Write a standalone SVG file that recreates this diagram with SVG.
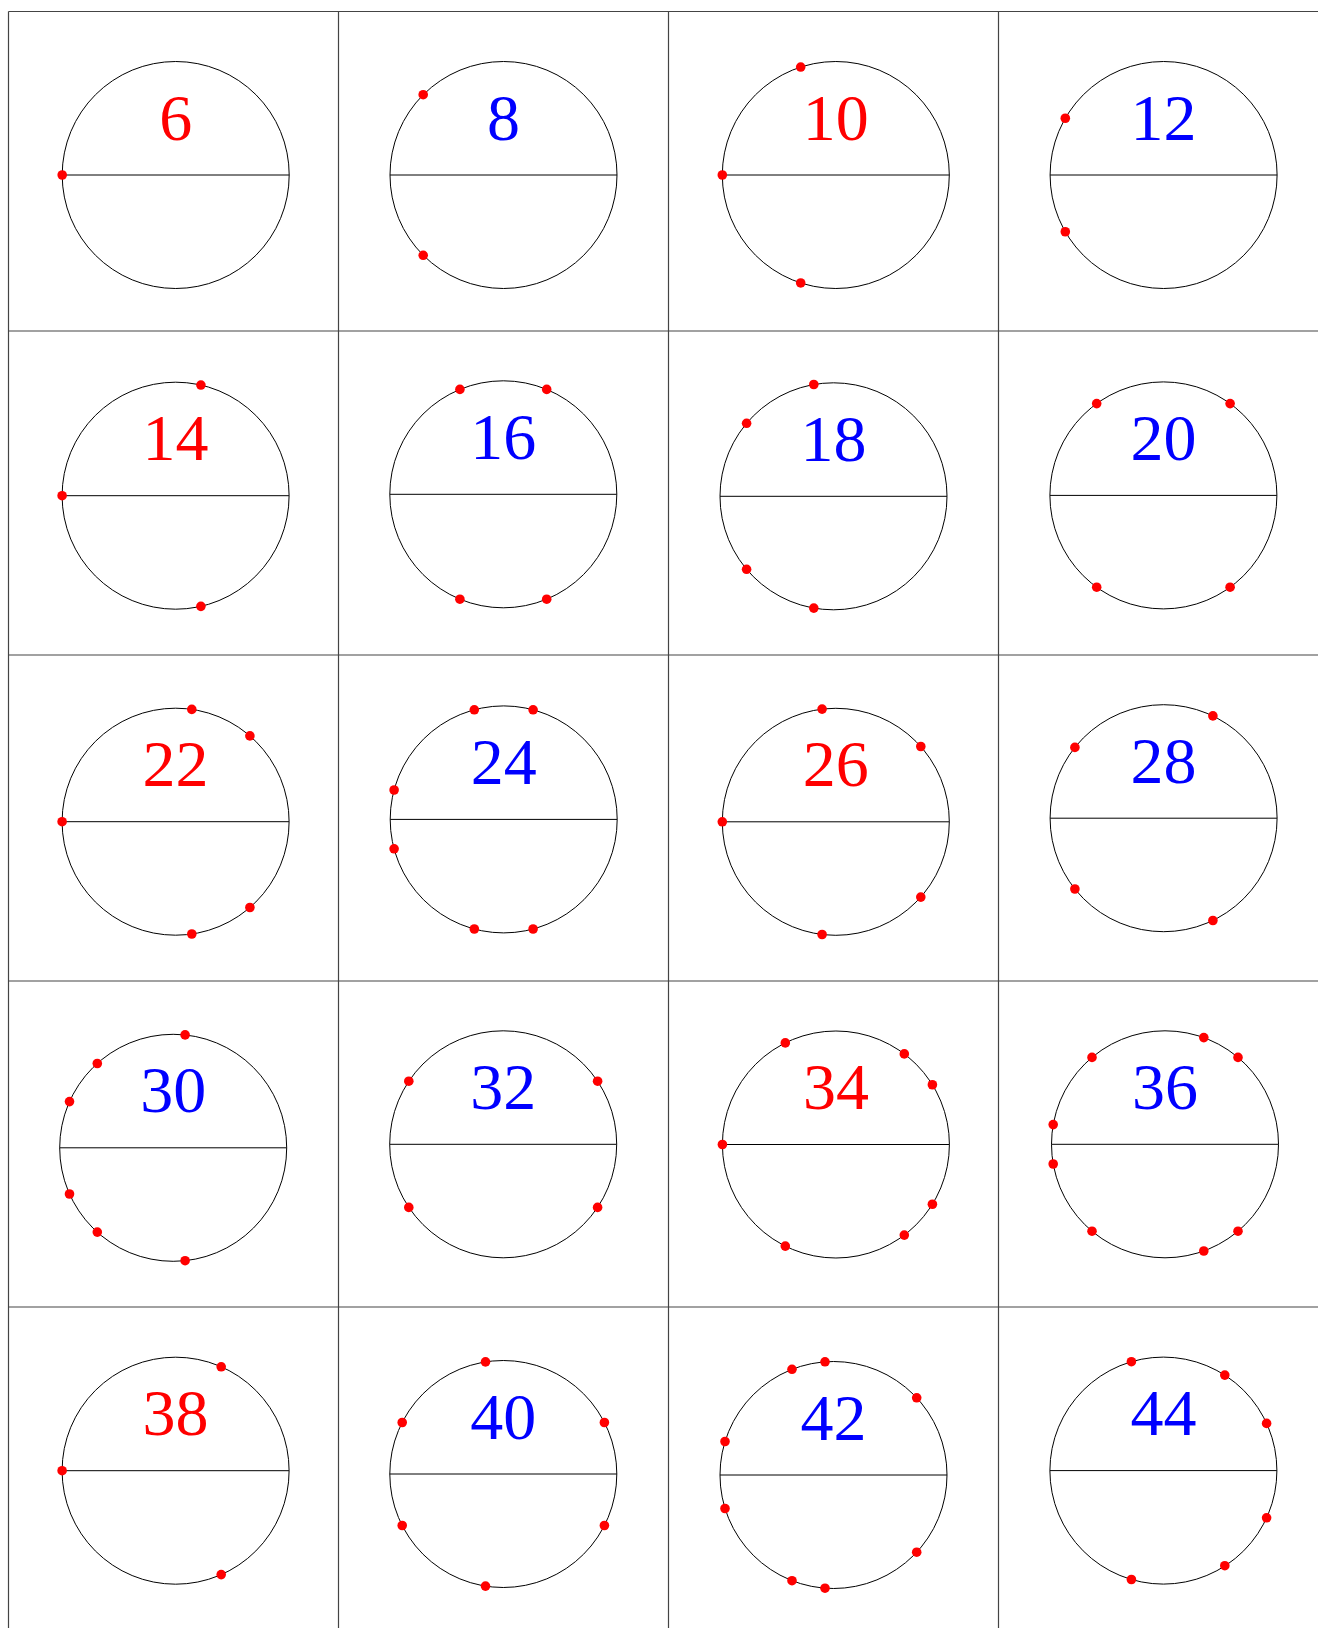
<svg xmlns="http://www.w3.org/2000/svg" width="1318" height="1628" viewBox="0 0 1318 1628">
<style>
.grid{stroke:#444;stroke-width:1.2;fill:none}
.c{fill:none;stroke:#000;stroke-width:1}
.d{stroke:#000;stroke-width:1}
.p{fill:#ff0000}
.t{font-family:"Liberation Serif","DejaVu Serif",serif;font-size:66px;text-anchor:middle}
.r{fill:#ff0000}
.b{fill:#0000ff}
</style>
<rect width="1318" height="1628" fill="#fff"/>
<g id="grid" class="grid">
<line x1="8.5" y1="11.5" x2="1318" y2="11.5"/>
<line x1="8.5" y1="331" x2="1318" y2="331"/>
<line x1="8.5" y1="655" x2="1318" y2="655"/>
<line x1="8.5" y1="981" x2="1318" y2="981"/>
<line x1="8.5" y1="1307" x2="1318" y2="1307"/>
<line x1="8.5" y1="11.5" x2="8.5" y2="1628"/>
<line x1="338.5" y1="11.5" x2="338.5" y2="1628"/>
<line x1="668.5" y1="11.5" x2="668.5" y2="1628"/>
<line x1="998.5" y1="11.5" x2="998.5" y2="1628"/>
</g>
<g id="connectors"></g>

<g id="n6"><circle class="c" cx="175.7" cy="175" r="113.5"/><line class="d" x1="62.2" y1="175" x2="289.2" y2="175"/><text class="t r" x="175.7" y="139.5">6</text>
<circle class="p" cx="62.2" cy="175" r="4.8"/></g>

<g id="n8"><circle class="c" cx="503.5" cy="175" r="113.5"/><line class="d" x1="390" y1="175" x2="617" y2="175"/><text class="t b" x="503.5" y="139.5">8</text>
<circle class="p" cx="423.2" cy="94.7" r="4.8"/><circle class="p" cx="423.2" cy="255.3" r="4.8"/></g>

<g id="n10"><circle class="c" cx="835.8" cy="175" r="113.5"/><line class="d" x1="722.3" y1="175" x2="949.3" y2="175"/><text class="t r" x="835.8" y="139.5">10</text>
<circle class="p" cx="800.7" cy="67.05" r="4.8"/><circle class="p" cx="722.3" cy="175" r="4.8"/><circle class="p" cx="800.7" cy="282.95" r="4.8"/></g>

<g id="n12"><circle class="c" cx="1163.6" cy="175" r="113.5"/><line class="d" x1="1050.1" y1="175" x2="1277.1" y2="175"/><text class="t b" x="1163.6" y="139.5">12</text>
<circle class="p" cx="1065.3" cy="118.25" r="4.8"/><circle class="p" cx="1065.3" cy="231.75" r="4.8"/></g>

<g id="n14"><circle class="c" cx="175.6" cy="495.7" r="113.5"/><line class="d" x1="62.1" y1="495.7" x2="289.1" y2="495.7"/><text class="t r" x="175.6" y="460.2">14</text>
<circle class="p" cx="200.9" cy="385.05" r="4.8"/><circle class="p" cx="62.1" cy="495.7" r="4.8"/><circle class="p" cx="200.9" cy="606.35" r="4.8"/></g>

<g id="n16"><circle class="c" cx="503.3" cy="494.3" r="113.5"/><line class="d" x1="389.8" y1="494.3" x2="616.8" y2="494.3"/><text class="t b" x="503.3" y="458.8">16</text>
<circle class="p" cx="546.7" cy="389.4" r="4.8"/><circle class="p" cx="459.9" cy="389.4" r="4.8"/><circle class="p" cx="459.9" cy="599.2" r="4.8"/><circle class="p" cx="546.7" cy="599.2" r="4.8"/></g>

<g id="n18"><circle class="c" cx="833.5" cy="496.3" r="113.5"/><line class="d" x1="720" y1="496.3" x2="947" y2="496.3"/><text class="t b" x="833.5" y="460.8">18</text>
<circle class="p" cx="813.8" cy="384.5" r="4.8"/><circle class="p" cx="746.6" cy="423.3" r="4.8"/><circle class="p" cx="746.6" cy="569.3" r="4.8"/><circle class="p" cx="813.8" cy="608.1" r="4.8"/></g>

<g id="n20"><circle class="c" cx="1163.4" cy="495.4" r="113.5"/><line class="d" x1="1049.9" y1="495.4" x2="1276.9" y2="495.4"/><text class="t b" x="1163.4" y="459.9">20</text>
<circle class="p" cx="1230.1" cy="403.6" r="4.8"/><circle class="p" cx="1096.7" cy="403.6" r="4.8"/><circle class="p" cx="1096.7" cy="587.2" r="4.8"/><circle class="p" cx="1230.1" cy="587.2" r="4.8"/></g>

<g id="n22"><circle class="c" cx="175.6" cy="821.7" r="113.5"/><line class="d" x1="62.1" y1="821.7" x2="289.1" y2="821.7"/><text class="t r" x="175.6" y="786.2">22</text>
<circle class="p" cx="249.9" cy="735.9" r="4.8"/><circle class="p" cx="191.8" cy="709.4" r="4.8"/><circle class="p" cx="62.1" cy="821.7" r="4.8"/><circle class="p" cx="191.8" cy="934" r="4.8"/><circle class="p" cx="249.9" cy="907.5" r="4.8"/></g>

<g id="n24"><circle class="c" cx="503.7" cy="819.4" r="113.5"/><line class="d" x1="390.2" y1="819.4" x2="617.2" y2="819.4"/><text class="t b" x="503.7" y="783.9">24</text>
<circle class="p" cx="533.1" cy="709.8" r="4.8"/><circle class="p" cx="474.3" cy="709.8" r="4.8"/><circle class="p" cx="394.1" cy="790" r="4.8"/><circle class="p" cx="394.1" cy="848.8" r="4.8"/><circle class="p" cx="474.3" cy="929" r="4.8"/><circle class="p" cx="533.1" cy="929" r="4.8"/></g>

<g id="n26"><circle class="c" cx="835.8" cy="821.8" r="113.5"/><line class="d" x1="722.3" y1="821.8" x2="949.3" y2="821.8"/><text class="t r" x="835.8" y="786.3">26</text>
<circle class="p" cx="920.8" cy="746.5" r="4.8"/><circle class="p" cx="822.1" cy="709.1" r="4.8"/><circle class="p" cx="722.3" cy="821.8" r="4.8"/><circle class="p" cx="822.1" cy="934.5" r="4.8"/><circle class="p" cx="920.8" cy="897.1" r="4.8"/></g>

<g id="n28"><circle class="c" cx="1163.6" cy="818.2" r="113.5"/><line class="d" x1="1050.1" y1="818.2" x2="1277.1" y2="818.2"/><text class="t b" x="1163.6" y="782.7">28</text>
<circle class="p" cx="1212.9" cy="715.9" r="4.8"/><circle class="p" cx="1074.9" cy="747.4" r="4.8"/><circle class="p" cx="1074.9" cy="889" r="4.8"/><circle class="p" cx="1212.9" cy="920.5" r="4.8"/></g>

<g id="n30"><circle class="c" cx="173.2" cy="1147.8" r="113.5"/><line class="d" x1="59.7" y1="1147.8" x2="286.7" y2="1147.8"/><text class="t b" x="173.2" y="1112.3">30</text>
<circle class="p" cx="185.1" cy="1034.9" r="4.8"/><circle class="p" cx="97.3" cy="1063.5" r="4.8"/><circle class="p" cx="69.5" cy="1101.6" r="4.8"/><circle class="p" cx="69.5" cy="1194" r="4.8"/><circle class="p" cx="97.3" cy="1232.1" r="4.8"/><circle class="p" cx="185.1" cy="1260.7" r="4.8"/></g>

<g id="n32"><circle class="c" cx="503.2" cy="1144.3" r="113.5"/><line class="d" x1="389.7" y1="1144.3" x2="616.7" y2="1144.3"/><text class="t b" x="503.2" y="1108.8">32</text>
<circle class="p" cx="597.6" cy="1081.2" r="4.8"/><circle class="p" cx="408.8" cy="1081.2" r="4.8"/><circle class="p" cx="408.8" cy="1207.4" r="4.8"/><circle class="p" cx="597.6" cy="1207.4" r="4.8"/></g>

<g id="n34"><circle class="c" cx="835.9" cy="1144.5" r="113.5"/><line class="d" x1="722.4" y1="1144.5" x2="949.4" y2="1144.5"/><text class="t r" x="835.9" y="1109">34</text>
<circle class="p" cx="932.4" cy="1084.75" r="4.8"/><circle class="p" cx="904.3" cy="1053.9" r="4.8"/><circle class="p" cx="785.3" cy="1042.9" r="4.8"/><circle class="p" cx="722.4" cy="1144.5" r="4.8"/><circle class="p" cx="785.3" cy="1246.1" r="4.8"/><circle class="p" cx="904.3" cy="1235.1" r="4.8"/><circle class="p" cx="932.4" cy="1204.25" r="4.8"/></g>

<g id="n36"><circle class="c" cx="1165" cy="1144.3" r="113.5"/><line class="d" x1="1051.5" y1="1144.3" x2="1278.5" y2="1144.3"/><text class="t b" x="1165" y="1108.8">36</text>
<circle class="p" cx="1238" cy="1057.4" r="4.8"/><circle class="p" cx="1203.8" cy="1037.6" r="4.8"/><circle class="p" cx="1092" cy="1057.4" r="4.8"/><circle class="p" cx="1053.2" cy="1124.6" r="4.8"/><circle class="p" cx="1053.2" cy="1164" r="4.8"/><circle class="p" cx="1092" cy="1231.2" r="4.8"/><circle class="p" cx="1203.8" cy="1251" r="4.8"/><circle class="p" cx="1238" cy="1231.2" r="4.8"/></g>

<g id="n38"><circle class="c" cx="175.6" cy="1470.7" r="113.5"/><line class="d" x1="62.1" y1="1470.7" x2="289.1" y2="1470.7"/><text class="t r" x="175.6" y="1435.2">38</text>
<circle class="p" cx="221.2" cy="1366.8" r="4.8"/><circle class="p" cx="62.1" cy="1470.7" r="4.8"/><circle class="p" cx="221.2" cy="1574.6" r="4.8"/></g>

<g id="n40"><circle class="c" cx="503.3" cy="1474" r="113.5"/><line class="d" x1="389.8" y1="1474" x2="616.8" y2="1474"/><text class="t b" x="503.3" y="1438.5">40</text>
<circle class="p" cx="604.4" cy="1422.5" r="4.8"/><circle class="p" cx="485.5" cy="1361.9" r="4.8"/><circle class="p" cx="402.2" cy="1422.5" r="4.8"/><circle class="p" cx="402.2" cy="1525.5" r="4.8"/><circle class="p" cx="485.5" cy="1586.1" r="4.8"/><circle class="p" cx="604.4" cy="1525.5" r="4.8"/></g>

<g id="n42"><circle class="c" cx="833.5" cy="1475" r="113.5"/><line class="d" x1="720" y1="1475" x2="947" y2="1475"/><text class="t b" x="833.5" y="1439.5">42</text>
<circle class="p" cx="916.7" cy="1397.8" r="4.8"/><circle class="p" cx="825" cy="1361.8" r="4.8"/><circle class="p" cx="792" cy="1369.3" r="4.8"/><circle class="p" cx="725" cy="1441.5" r="4.8"/><circle class="p" cx="725" cy="1508.5" r="4.8"/><circle class="p" cx="792" cy="1580.7" r="4.8"/><circle class="p" cx="825" cy="1588.2" r="4.8"/><circle class="p" cx="916.7" cy="1552.2" r="4.8"/></g>

<g id="n44"><circle class="c" cx="1163.4" cy="1470.6" r="113.5"/><line class="d" x1="1049.9" y1="1470.6" x2="1276.9" y2="1470.6"/><text class="t b" x="1163.4" y="1435.1">44</text>
<circle class="p" cx="1266.6" cy="1423.4" r="4.8"/><circle class="p" cx="1224.8" cy="1375.1" r="4.8"/><circle class="p" cx="1131.4" cy="1361.7" r="4.8"/><circle class="p" cx="1131.4" cy="1579.5" r="4.8"/><circle class="p" cx="1224.8" cy="1565.7" r="4.8"/><circle class="p" cx="1266.6" cy="1517.8" r="4.8"/></g>
</svg>
